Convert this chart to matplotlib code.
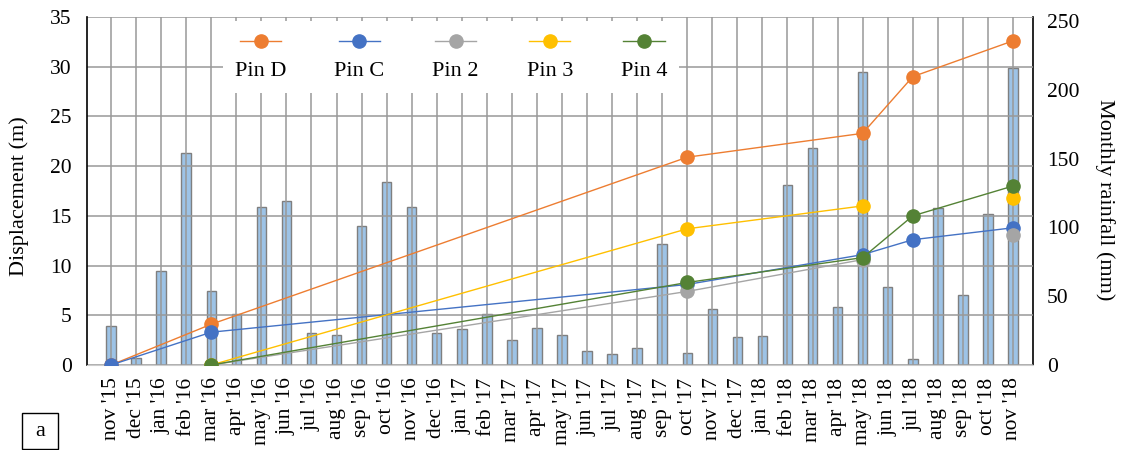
import numpy as np
import matplotlib
matplotlib.use("Agg")
import matplotlib.pyplot as plt
from matplotlib.offsetbox import VPacker
from matplotlib.patches import Rectangle

plt.rcParams['font.family'] = ['Liberation Serif', 'DejaVu Serif']

months = ["nov '15", "dec '15", "jan '16", "feb '16", "mar '16", "apr '16", "may '16",
          "jun '16", "jul '16", "aug '16", "sep '16", "oct '16", "nov '16", "dec '16",
          "jan '17", "feb '17", "mar '17", "apr '17", "may '17", "jun '17", "jul '17",
          "aug '17", "sep '17", "oct '17", "nov '17", "dec '17", "jan '18", "feb '18",
          "mar '18", "apr '18", "may '18", "jun '18", "jul '18", "aug '18", "sep '18",
          "oct '18", "nov '18"]

rainfall = [28, 5, 68, 154, 54, 37, 115, 119, 23, 22, 101, 133, 115, 23, 26, 37, 18, 27,
            22, 10, 8, 12, 88, 9, 41, 20, 21, 131, 158, 42, 213, 57, 4, 114, 51, 110, 216]

# survey dates (indices into months)
pin_DC_idx = [0, 4, 23, 30, 32, 36]
pin_D = [0.0, 4.1, 20.9, 23.3, 29.0, 32.6]
pin_C = [0.0, 3.3, 8.1, 11.1, 12.6, 13.8]

pin_234_idx = [4, 23, 30, 32, 36]
pin_2 = [0.0, 7.4, 10.6, np.nan, 13.1]
pin_3 = [0.0, 13.7, 16.0, np.nan, 16.8]
pin_4 = [0.0, 8.3, 10.8, 15.0, 18.0]

colors = {"Pin D": "#ED7D31", "Pin C": "#4472C4", "Pin 2": "#A5A5A5",
          "Pin 3": "#FFC000", "Pin 4": "#548235"}

fig = plt.figure(figsize=(11.26, 4.5), dpi=100)
ax = fig.add_axes([87/1126, 1-365/450, 946/1126, 348/450])
ax2 = ax.twinx()

x = np.arange(len(months))
ax2.bar(x, rainfall, width=0.38, color="#9DC3E6", edgecolor="#7f7f7f", linewidth=1.0, zorder=1)
ax2.set_ylim(0, 253)
ax2.set_yticks([0, 50, 100, 150, 200, 250])

ax.set_zorder(ax2.get_zorder() + 1)
ax.patch.set_visible(False)

series = [("Pin D", pin_DC_idx, pin_D), ("Pin C", pin_DC_idx, pin_C),
          ("Pin 2", pin_234_idx, pin_2), ("Pin 3", pin_234_idx, pin_3),
          ("Pin 4", pin_234_idx, pin_4)]
for name, idx, vals in series:
    ax.plot(idx, vals, color=colors[name], lw=1.0, marker="o", markersize=9.5,
            label=name, zorder=3)

ax.set_xlim(-0.96, 36.8)
ax.set_ylim(0, 35)
ax.set_yticks(np.arange(0, 36, 5))
ax.set_xticks(x)
ax.set_xticklabels(months, rotation=90, fontsize=15.5)
ax.grid(True, color="#999999", lw=1.1, zorder=0)
ax.set_axisbelow(True)

for a in (ax, ax2):
    a.spines['top'].set_visible(False)
    a.tick_params(length=0)
ax.spines['left'].set_color('black')
ax.spines['left'].set_linewidth(1.2)
ax2.spines['right'].set_color('black')
ax2.spines['right'].set_linewidth(1.2)
ax.spines['bottom'].set_color('#cccccc')
ax2.spines['bottom'].set_visible(False)
ax2.spines['left'].set_visible(False)
ax.spines['right'].set_visible(False)

ax.tick_params(axis='y', labelsize=15.5, pad=11)
ax.tick_params(axis='x', pad=9)
ax2.tick_params(axis='y', labelsize=15.5, pad=10)

ax.set_ylabel("Displacement (m)", fontsize=16)
ax.yaxis.set_label_coords(-0.061, 0.486)
ax2.set_ylabel("Monthly rainfall (mm)", fontsize=16, rotation=270, va='center')
ax2.yaxis.set_label_coords(1.076, 0.474)

leg = ax.legend(loc="center", bbox_to_anchor=(0.385, 0.885), ncol=5, fontsize=16,
                frameon=True, facecolor="white", edgecolor="none", framealpha=1.0,
                fancybox=False, handlelength=1.85, columnspacing=2.15, borderpad=0.55,
                handletextpad=0.0)
for col in leg._legend_handle_box.get_children():
    new_items = []
    for item in col.get_children():
        h, t = item.get_children()
        new_items.append(VPacker(pad=0, sep=9.5, children=[h, t], align="center"))
    col._children = new_items
leg.set_zorder(5)

# panel label "a" in a square box
fig.patches.append(Rectangle((22/1126, 1-449/450), 36/1126, 36/450,
                             transform=fig.transFigure, fill=False,
                             edgecolor="black", lw=1.0))
fig.text(40/1126, 1-432/450, "a", fontsize=16, ha="center", va="center")

fig.savefig("out.png", dpi=100)
